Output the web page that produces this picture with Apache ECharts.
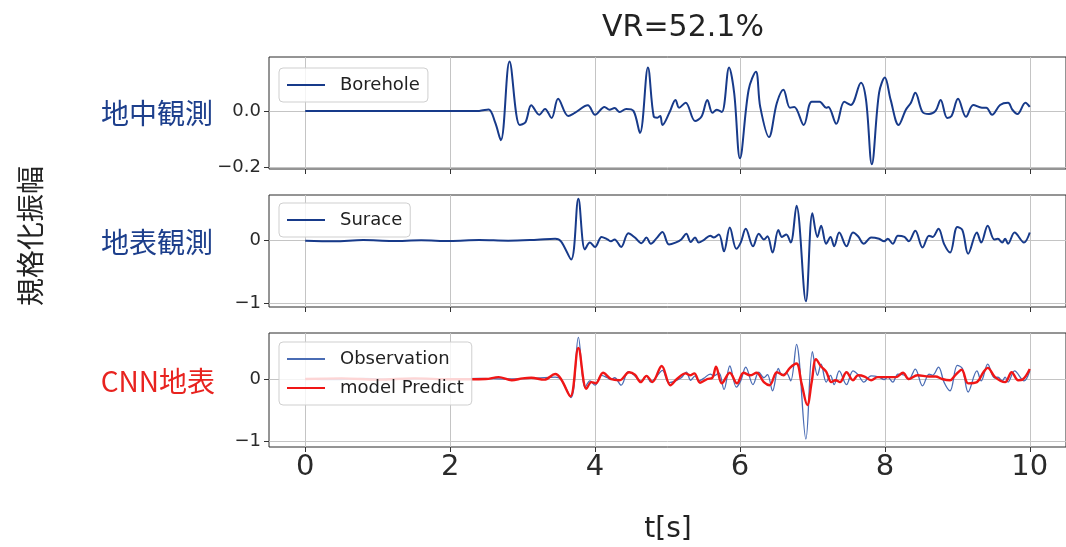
<!DOCTYPE html>
<html>
<head>
<meta charset="utf-8">
<script src="https://cdn.jsdelivr.net/npm/echarts@6/dist/echarts.min.js"></script>
<style>html,body{margin:0;padding:0;background:#fff}#c{width:1066px;height:547px}</style>
</head>
<body>
<div id="c"></div>
<script>
// ---- data (time in s, normalized amplitude) ----
const xTicks = [0, 2, 4, 6, 8, 10];
const boreholeT = [0,2.40,2.53,2.62,2.70,2.82,2.96,3.04,3.12,3.23,3.31,3.40,3.49,3.63,3.72,3.90,4.00,4.13,4.20,4.27,4.34,4.43,4.53,4.62,4.73,4.81,4.86,4.90,4.93,5.03,5.11,5.16,5.25,5.38,5.47,5.55,5.62,5.68,5.75,5.85,5.92,6.00,6.12,6.22,6.28,6.40,6.51,6.60,6.69,6.75,6.88,6.99,7.10,7.19,7.22,7.33,7.44,7.53,7.67,7.74,7.82,7.92,8.00,8.08,8.19,8.29,8.36,8.42,8.52,8.61,8.70,8.77,8.86,8.92,9.01,9.12,9.22,9.34,9.40,9.48,9.59,9.70,9.76,9.83,9.94,10.0];
const boreholeV = [0,0,0.005,-0.04,-0.104,0.175,-0.05,-0.04,0.02,-0.014,0.007,-0.025,0.043,-0.018,-0.007,0.02,-0.014,0.014,0.004,0.01,-0.004,0.007,0.0,-0.078,0.154,-0.02,-0.024,-0.018,-0.05,-0.004,0.039,0.011,0.029,-0.036,-0.02,0.039,-0.007,0.004,-0.004,0.154,0.064,-0.168,0.075,0.139,0.014,-0.093,0.029,0.075,0.011,0.014,-0.05,0.032,0.032,0.011,0.014,-0.046,0.032,0.021,0.10,0.039,-0.189,0.064,0.118,0.039,-0.05,0.004,0.029,0.064,-0.004,-0.011,0.0,0.039,-0.025,-0.018,0.043,-0.021,0.021,0.011,0.011,-0.014,0.021,0.029,0.004,-0.011,0.029,0.014];

const surfaceT = [0,0.4,0.8,1.2,1.6,2.0,2.4,2.8,3.2,3.45,3.53,3.67,3.77,3.86,3.93,4.00,4.09,4.17,4.22,4.27,4.36,4.46,4.55,4.64,4.71,4.77,4.85,4.93,5.02,5.11,5.19,5.26,5.32,5.38,5.43,5.50,5.59,5.64,5.71,5.78,5.86,5.95,6.01,6.08,6.18,6.26,6.33,6.38,6.45,6.53,6.58,6.64,6.70,6.78,6.91,7.00,7.07,7.12,7.19,7.25,7.30,7.37,7.47,7.56,7.63,7.71,7.81,7.92,7.99,8.04,8.11,8.18,8.27,8.33,8.42,8.52,8.61,8.66,8.74,8.82,8.90,9.00,9.07,9.15,9.27,9.33,9.42,9.51,9.56,9.62,9.66,9.70,9.79,9.92,10.0];
const surfaceV = [0,-0.01,0.01,-0.005,0.005,-0.005,0.01,0.0,0.015,0.03,-0.01,-0.30,0.67,-0.14,-0.03,-0.10,0.06,0.02,-0.01,0.02,-0.10,0.12,0.05,-0.04,0.05,-0.05,0.04,0.14,-0.06,-0.03,0.02,0.11,-0.02,0.05,-0.03,0.01,0.08,0.05,0.10,-0.17,0.21,-0.13,-0.03,0.19,-0.09,0.11,0.02,0.07,-0.19,0.17,0.06,0.10,-0.03,0.56,-0.97,0.44,0.06,0.24,-0.05,0.06,-0.09,0.13,-0.09,0.13,0.07,-0.05,0.05,0.03,-0.01,0.03,-0.05,0.08,0.06,-0.01,0.16,-0.11,0.08,0.06,0.19,-0.06,-0.19,0.22,0.17,-0.21,0.13,-0.03,0.24,0.02,0.03,-0.03,0.03,-0.05,0.13,-0.03,0.13];

const predictT = [0,0.5,1.0,1.5,2.0,2.49,2.67,2.85,3.0,3.12,3.3,3.45,3.53,3.66,3.77,3.88,3.95,4.01,4.11,4.22,4.34,4.47,4.55,4.63,4.71,4.79,4.92,5.04,5.13,5.25,5.31,5.37,5.45,5.55,5.62,5.67,5.75,5.86,5.96,6.05,6.14,6.23,6.33,6.41,6.51,6.60,6.69,6.78,6.85,6.93,6.99,7.05,7.12,7.19,7.26,7.32,7.38,7.47,7.56,7.63,7.72,7.81,7.90,8.01,8.15,8.25,8.33,8.45,8.61,8.70,8.79,8.90,8.97,9.06,9.15,9.27,9.36,9.42,9.52,9.66,9.75,9.84,9.90,10.0];
const predictV = [0,0.01,-0.01,0.01,-0.005,0,0.03,-0.02,0.01,0.02,-0.01,0.08,0.0,-0.28,0.50,-0.16,-0.05,-0.07,0.10,0.0,-0.02,0.11,0.07,-0.05,0.05,-0.05,0.21,-0.10,0.0,0.09,0.06,0.09,-0.06,0.0,0.02,0.20,-0.07,0.10,-0.07,0.10,0.06,0.10,-0.05,-0.10,0.11,0.06,0.18,0.25,-0.07,-0.42,-0.05,0.32,0.20,0.12,-0.05,-0.02,-0.05,0.11,-0.02,0.06,0.04,-0.02,0.03,0.03,0.03,0.10,0.0,0.06,0.04,0.04,0.0,-0.02,0.06,0.15,-0.07,-0.05,0.11,0.18,0.03,-0.05,0.11,-0.02,-0.01,0.16];

const panelLabels = ['地中観測', '地表観測', 'CNN地表'];
const titleText = 'VR=52.1%';
const xLabel = 't[s]';
const yLabel = '規格化振幅';

// ---- build ----
const zip = (t, v) => t.map((x, i) => [x, v[i]]);
const navy = '#173a8a';
const minus = v => (v < 0 ? '\u2212' : '') + Math.abs(v);
const grids = [
  {left: 269, width: 803, top: 57, height: 112},
  {left: 269, width: 803, top: 195, height: 112},
  {left: 269, width: 803, top: 333, height: 114}
].map(g => Object.assign(g, {show: true, borderColor: '#2a2a2a', borderWidth: 1, backgroundColor: 'transparent'}));

const yCfg = [
  {min: -0.206, max: 0.191, iv: 0.2, ticks: [-0.2, 0], fmt: v => (v < 0 ? '\u2212' : '') + Math.abs(v).toFixed(1)},
  {min: -1.06, max: 0.73, iv: 1, ticks: [-1, 0], fmt: v => minus(v)},
  {min: -1.097, max: 0.742, iv: 1, ticks: [-1, 0], fmt: v => minus(v)}
];

const xAxes = [0, 1, 2].map(i => ({
  type: 'value', gridIndex: i, min: -0.5, max: 10.5, minInterval: 2, maxInterval: 2, position: 'bottom',
  axisLine: {show: false, onZero: false},
  axisTick: {show: true, inside: false, length: 5, customValues: xTicks, lineStyle: {color: '#333', width: 1}},
  axisLabel: {show: i === 2, customValues: xTicks, margin: 6, fontSize: 29, color: '#2a2a2a', fontFamily: 'DejaVu Sans'},
  splitLine: {show: true, lineStyle: {color: '#c4c4c4', width: 1}}
}));
const yAxes = yCfg.map((c, i) => ({
  type: 'value', gridIndex: i, min: c.min, max: c.max, minInterval: c.iv, maxInterval: c.iv, position: 'left',
  axisLine: {show: false, onZero: false},
  axisTick: {show: true, inside: false, length: 5, customValues: c.ticks, lineStyle: {color: '#333', width: 1}},
  axisLabel: {customValues: c.ticks, formatter: c.fmt, margin: 8, fontSize: 18, color: '#2a2a2a', fontFamily: 'DejaVu Sans'},
  splitLine: {show: true, lineStyle: {color: '#c4c4c4', width: 1}}
}));

const legendBase = {
  orient: 'vertical', left: 279, backgroundColor: 'rgba(255,255,255,0.82)', borderColor: '#cfcfcf', borderWidth: 1,
  borderRadius: 4, padding: [7, 8, 7, 8], icon: 'rect', itemWidth: 38, itemHeight: 2, itemGap: 9,
  textStyle: {fontSize: 18, lineHeight: 20, color: '#222', fontFamily: 'DejaVu Sans', padding: [0, 0, 0, 10]}
};

const option = {
  animation: false,
  backgroundColor: '#fff',
  grid: grids,
  xAxis: xAxes,
  yAxis: yAxes,
  legend: [
    Object.assign({}, legendBase, {top: 68, data: ['Borehole']}),
    Object.assign({}, legendBase, {top: 203, data: ['Surace']}),
    Object.assign({}, legendBase, {top: 342, data: ['Observation', 'model Predict']})
  ],
  series: [
    {name: 'Borehole', type: 'line', xAxisIndex: 0, yAxisIndex: 0, symbol: 'none', smooth: 0.35,
     data: zip(boreholeT, boreholeV), lineStyle: {color: navy, width: 2}, itemStyle: {color: navy}},
    {name: 'Surace', type: 'line', xAxisIndex: 1, yAxisIndex: 1, symbol: 'none', smooth: 0.35,
     data: zip(surfaceT, surfaceV), lineStyle: {color: navy, width: 2}, itemStyle: {color: navy}},
    {name: 'Observation', type: 'line', xAxisIndex: 2, yAxisIndex: 2, symbol: 'none', smooth: 0.35,
     data: zip(surfaceT, surfaceV), lineStyle: {color: '#4a6cb4', width: 1.3}, itemStyle: {color: '#4a6cb4'}},
    {name: 'model Predict', type: 'line', xAxisIndex: 2, yAxisIndex: 2, symbol: 'none', smooth: 0.35,
     data: zip(predictT, predictV), lineStyle: {color: '#f01616', width: 2.4}, itemStyle: {color: '#f01616'}, z: 3}
  ],
  graphic: [
    {type: 'text', style: {text: titleText, x: 683, y: 28, align: 'center', verticalAlign: 'middle', font: '30px "DejaVu Sans"', fill: '#222'}},
    {type: 'text', style: {text: xLabel, x: 668, y: 530, align: 'center', verticalAlign: 'middle', font: '28px "DejaVu Sans"', fill: '#222'}},
    {type: 'text', x: 30, y: 236, rotation: Math.PI / 2, style: {text: yLabel, x: 0, y: 0, align: 'center', verticalAlign: 'middle', font: '28px "Noto Sans CJK JP"', fill: '#222'}},
    {type: 'text', style: {text: panelLabels[0], x: 213, y: 113, align: 'right', verticalAlign: 'middle', font: '28px "Noto Sans CJK JP"', fill: '#1d3f8c'}},
    {type: 'text', style: {text: panelLabels[1], x: 213, y: 242, align: 'right', verticalAlign: 'middle', font: '28px "Noto Sans CJK JP"', fill: '#1d3f8c'}},
    {type: 'text', style: {text: panelLabels[2], x: 215, y: 381, align: 'right', verticalAlign: 'middle', font: '28px "Noto Sans CJK JP"', fill: '#e8231f'}}
  ]
};
const chart = echarts.init(document.getElementById('c'), null, {renderer: 'canvas'});
chart.setOption(option);
</script>
</body>
</html>
